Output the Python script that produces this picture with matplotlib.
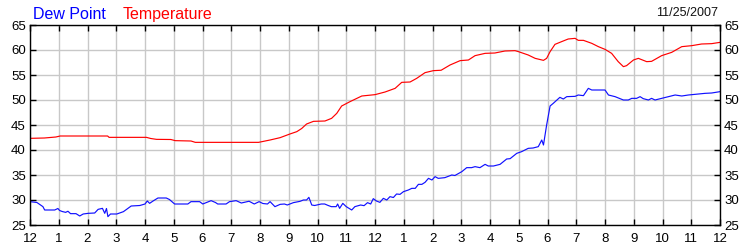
import numpy as np
import matplotlib
matplotlib.use("Agg")
import matplotlib.pyplot as plt

# temperature (F) by hour since midnight
temp_hours = [0.0, 0.5, 0.9, 1.05, 2.7, 2.75, 4.05, 4.2, 4.4, 4.9, 5.05, 5.6, 5.75,
              7.95, 8.35, 8.7, 9.04, 9.28, 9.45, 9.62, 9.86, 10.26, 10.49, 10.67,
              10.84, 11.13, 11.54, 12.0, 12.35, 12.7, 12.93, 13.22, 13.45, 13.74,
              14.03, 14.3, 14.61, 14.96, 15.25, 15.48, 15.83, 16.17, 16.52, 16.87,
              16.99, 17.33, 17.57, 17.86, 17.97, 18.09, 18.26, 18.49, 18.72, 18.96,
              19.07, 19.25, 19.54, 19.77, 20.0, 20.23, 20.46, 20.64, 20.75, 20.99,
              21.16, 21.45, 21.62, 21.97, 22.32, 22.67, 23.02, 23.36, 23.71, 24.0]
temp_vals = [42.33, 42.4, 42.6, 42.8, 42.8, 42.53, 42.53, 42.3, 42.13, 42.1, 41.87,
             41.8, 41.53, 41.53, 42.0, 42.47, 43.2, 43.67, 44.3, 45.2, 45.73, 45.8,
             46.33, 47.33, 48.8, 49.67, 50.8, 51.07, 51.6, 52.33, 53.53, 53.6, 54.33,
             55.47, 55.87, 55.95, 57.0, 57.87, 58.0, 58.87, 59.33, 59.4, 59.8, 59.87,
             59.67, 59.0, 58.33, 57.93, 58.33, 59.67, 61.13, 61.67, 62.2, 62.33,
             61.93, 61.93, 61.33, 60.67, 60.13, 59.33, 57.67, 56.67, 56.87, 58.0,
             58.33, 57.67, 57.73, 58.87, 59.53, 60.67, 60.87, 61.2, 61.27, 61.53]

# dew point (F)
dew_hours = [0.0, 0.24, 0.45, 0.51, 0.86, 0.97, 1.03, 1.12, 1.24, 1.32, 1.41, 1.6,
             1.73, 1.85, 2.02, 2.25, 2.37, 2.52, 2.6, 2.66, 2.71, 2.8, 3.02, 3.25,
             3.52, 3.82, 4.0, 4.08, 4.16, 4.28, 4.45, 4.74, 4.85, 5.03, 5.49, 5.6,
             5.9, 6.01, 6.3, 6.45, 6.53, 6.82, 6.94, 7.17, 7.35, 7.5, 7.62, 7.8,
             7.97, 8.1, 8.26, 8.35, 8.52, 8.7, 8.85, 8.95, 9.16, 9.39, 9.51, 9.62,
             9.7, 9.8, 9.9, 10.13, 10.25, 10.36, 10.48, 10.65, 10.7, 10.77, 10.88,
             11.0, 11.19, 11.3, 11.5, 11.62, 11.74, 11.85, 11.94, 12.05, 12.17,
             12.29, 12.41, 12.52, 12.64, 12.75, 12.87, 12.99, 13.16, 13.28, 13.4,
             13.51, 13.63, 13.74, 13.86, 13.98, 14.09, 14.2, 14.43, 14.67, 14.78,
             15.02, 15.19, 15.36, 15.48, 15.65, 15.83, 15.94, 16.12, 16.35, 16.58,
             16.7, 16.93, 17.1, 17.33, 17.5, 17.68, 17.8, 17.86, 17.97, 18.09, 18.2,
             18.43, 18.55, 18.67, 18.96, 19.07, 19.25, 19.42, 19.54, 20.0, 20.12,
             20.35, 20.64, 20.81, 20.93, 21.1, 21.22, 21.33, 21.51, 21.62, 21.74,
             21.97, 22.2, 22.44, 22.67, 22.9, 23.13, 23.48, 23.71, 24.0]
dew_vals = [29.67, 29.5, 28.67, 28.0, 28.0, 28.3, 27.9, 27.7, 27.53, 27.75, 27.27,
            27.27, 26.8, 27.2, 27.33, 27.4, 28.13, 28.33, 27.33, 28.3, 26.67, 27.2,
            27.2, 27.67, 28.8, 28.9, 29.2, 29.8, 29.33, 29.8, 30.4, 30.4, 30.1, 29.2,
            29.2, 29.67, 29.67, 29.2, 29.87, 29.5, 29.2, 29.2, 29.67, 29.87, 29.4,
            29.6, 29.75, 29.2, 29.67, 29.3, 29.2, 29.67, 28.67, 29.13, 29.2, 29.0,
            29.47, 29.73, 30.0, 30.0, 30.53, 29.0, 28.9, 29.2, 29.2, 28.93, 28.67,
            28.67, 29.2, 28.33, 29.33, 28.67, 28.0, 28.67, 29.0, 28.87, 29.47, 29.2,
            30.27, 29.8, 29.53, 30.33, 30.0, 30.67, 30.5, 31.2, 31.13, 31.67, 32.0,
            32.33, 32.33, 33.13, 33.13, 33.53, 34.33, 34.0, 34.67, 34.33, 34.47,
            35.0, 34.9, 35.67, 36.47, 36.47, 36.67, 36.47, 37.13, 36.8, 36.8, 37.13,
            38.2, 38.27, 39.33, 39.67, 40.33, 40.4, 40.67, 42.0, 41.0, 45.0, 48.8,
            49.33, 50.53, 50.2, 50.67, 50.73, 51.0, 50.87, 52.33, 52.0, 52.0, 51.0,
            50.67, 50.0, 50.0, 50.33, 50.33, 50.67, 50.27, 50.0, 50.33, 50.0, 50.33,
            50.67, 51.0, 50.8, 51.0, 51.13, 51.33, 51.4, 51.67]

hour_labels = ["12", "1", "2", "3", "4", "5", "6", "7", "8", "9", "10", "11",
               "12", "1", "2", "3", "4", "5", "6", "7", "8", "9", "10", "11", "12"]
y_ticks = [25, 30, 35, 40, 45, 50, 55, 60, 65]

plt.rcParams['font.family'] = ['Liberation Sans', 'DejaVu Sans']

fig = plt.figure(figsize=(7.5, 2.5), dpi=100)
ax = fig.add_axes([0.04, 0.1, 0.92, 0.8])

ax.plot(temp_hours, temp_vals, color="#ff0000", lw=0.85)
ax.plot(dew_hours, dew_vals, color="#1010ff", lw=0.85)

ax.set_xlim(0, 24)
ax.set_ylim(25, 65)
ax.set_xticks(range(25))
ax.set_xticklabels(hour_labels)
ax.set_yticks(y_ticks)
ax.grid(True, color="#c8c8c8", lw=1.0)
ax.set_axisbelow(True)
ax.tick_params(direction="in", length=4, width=1, color="black",
               top=True, right=True, labelright=True, labelsize=9.5, pad=3)
ax.tick_params(axis="x", pad=6)
for sp in ax.spines.values():
    sp.set_linewidth(1.0)

fig.text(0.044, 0.925, "Dew Point", color="#0000ff", fontsize=11.5)
fig.text(0.163, 0.925, "Temperature", color="#ff0000", fontsize=11.5)
fig.text(0.958, 0.935, "11/25/2007", color="#111111", fontsize=9, ha="right")

fig.savefig("out.png", dpi=100)
